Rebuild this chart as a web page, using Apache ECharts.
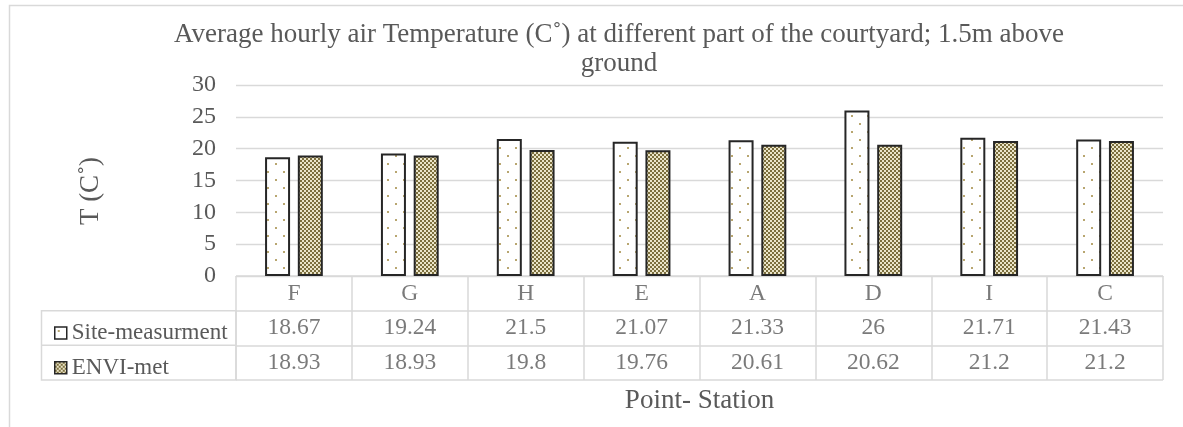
<!DOCTYPE html>
<html>
<head>
<meta charset="utf-8">
<script src="https://cdn.jsdelivr.net/npm/echarts@6/dist/echarts.min.js"></script>
<style>
html,body{margin:0;padding:0;background:#fff;}
#chart{width:1183px;height:427px;}
</style>
</head>
<body>
<div id="chart"></div>
<script>
// ---- data ----
const categories = ['F', 'G', 'H', 'E', 'A', 'D', 'I', 'C'];
const siteMeasurement = [18.67, 19.24, 21.5, 21.07, 21.33, 26, 21.71, 21.43];
const envimet = [18.93, 18.93, 19.8, 19.76, 20.61, 20.62, 21.2, 21.2];
const seriesNames = ['Site-measurment', 'ENVI-met'];
const yTicks = { min: 0, max: 30, interval: 5 };
const titleText = 'Average hourly air Temperature (C˚) at different part of the courtyard; 1.5m above\nground';
const yTitle = 'T (C˚)';
const xTitle = 'Point- Station';

// ---- patterns ----
function dotPattern() {
  const c = document.createElement('canvas');
  c.width = 16; c.height = 16;
  const g = c.getContext('2d');
  g.fillStyle = '#ffffff'; g.fillRect(0, 0, 16, 16);
  g.fillStyle = '#b8a670';
  g.fillRect(3, 3, 2, 2);
  g.fillRect(11, 11, 2, 2);
  return c;
}
function checkerPattern() {
  const c = document.createElement('canvas');
  c.width = 4; c.height = 4;
  const g = c.getContext('2d');
  g.fillStyle = '#ebe5c9'; g.fillRect(0, 0, 4, 4);
  g.fillStyle = '#7c6f3d';
  g.fillRect(0, 0, 2, 2);
  g.fillRect(2, 2, 2, 2);
  return c;
}

const FONT = 'Liberation Serif';
const TXT = '#595959';
const LINE = '#d9d9d9';

const tableCells = [];
categories.forEach((c, i) => {
  tableCells.push([i, 0, c]);
  tableCells.push([i, 1, String(siteMeasurement[i])]);
  tableCells.push([i, 2, String(envimet[i])]);
});

const chart = echarts.init(document.getElementById('chart'), null, { renderer: 'canvas' });
const option = {
  animation: false,
  backgroundColor: '#ffffff',
  textStyle: { fontFamily: FONT, color: TXT },
  title: {
    text: titleText,
    left: 614,
    top: 15,
    textAlign: 'center',
    textStyle: { fontFamily: FONT, fontSize: 27, fontWeight: 'normal', color: TXT, lineHeight: 29.5 }
  },
  legend: {
    data: seriesNames,
    orient: 'vertical',
    left: 49,
    top: 316,
    itemWidth: 12,
    itemHeight: 12,
    itemGap: 10.7,
    icon: 'rect',
    selectedMode: false,
    itemStyle: { borderWidth: 1.5, borderColor: '#262626' },
    textStyle: { fontFamily: FONT, fontSize: 23, color: TXT, lineHeight: 24 }
  },
  grid: [
    { left: 236, right: 20, top: 85, bottom: 151 },
    { left: 236, right: 20, top: 276, height: 104 }
  ],
  xAxis: [
    {
      type: 'category', gridIndex: 0, data: categories,
      axisLine: { show: true, lineStyle: { color: LINE } },
      axisTick: { show: false }, axisLabel: { show: false }
    },
    {
      type: 'category', gridIndex: 1, data: categories,
      axisLine: { show: false }, axisTick: { show: false }, axisLabel: { show: false },
      splitLine: { show: true, lineStyle: { color: LINE, width: 1.5 } }
    }
  ],
  yAxis: [
    {
      type: 'value', gridIndex: 0, min: yTicks.min, max: yTicks.max, interval: yTicks.interval,
      axisLine: { show: false }, axisTick: { show: false },
      axisLabel: { fontFamily: FONT, fontSize: 24, color: TXT, margin: 20 },
      splitLine: { lineStyle: { color: LINE, width: 1.3 } }
    },
    {
      type: 'category', gridIndex: 1, data: ['cat', 'site', 'envi'], inverse: true,
      axisLine: { show: false }, axisTick: { show: false }, axisLabel: { show: false },
      splitLine: { show: true, lineStyle: { color: LINE, width: 1.5 } }
    }
  ],
  series: [
    {
      name: seriesNames[0], type: 'bar', xAxisIndex: 0, yAxisIndex: 0,
      data: siteMeasurement, barWidth: 25, barGap: '31%',
      itemStyle: { color: { image: dotPattern(), repeat: 'repeat' }, borderColor: '#262626', borderWidth: 2 }
    },
    {
      name: seriesNames[1], type: 'bar', xAxisIndex: 0, yAxisIndex: 0,
      data: envimet, barWidth: 25, barGap: '31%',
      itemStyle: { color: { image: checkerPattern(), repeat: 'repeat' }, borderColor: '#262626', borderWidth: 2 }
    },
    {
      type: 'scatter', xAxisIndex: 1, yAxisIndex: 1, data: tableCells,
      symbolSize: 1, itemStyle: { color: 'rgba(0,0,0,0)' }, silent: true,
      label: {
        show: true, position: 'inside',
        formatter: p => p.value[2],
        fontFamily: FONT, fontSize: 23.5, color: TXT
      }
    }
  ],
  graphic: [
    {
      type: 'rect', silent: true,
      shape: { x: 9.5, y: 5.5, width: 1400, height: 600 },
      style: { fill: null, stroke: LINE, lineWidth: 1.5 }
    },
    {
      type: 'rect', silent: true,
      shape: { x: 41.5, y: 310.7, width: 194.5, height: 69.3 },
      style: { fill: null, stroke: LINE, lineWidth: 1.5 }
    },
    {
      type: 'line', silent: true,
      shape: { x1: 41.5, y1: 345.3, x2: 236, y2: 345.3 },
      style: { stroke: LINE, lineWidth: 1.5 }
    },
    {
      type: 'text', silent: true, x: 91, y: 191, rotation: Math.PI / 2,
      style: { text: yTitle, fontFamily: FONT, fontSize: 27, fill: TXT, align: 'center', verticalAlign: 'middle' }
    },
    {
      type: 'text', silent: true, x: 699.5, y: 401,
      style: { text: xTitle, fontFamily: FONT, fontSize: 27, fill: TXT, align: 'center', verticalAlign: 'middle' }
    }
  ]
};
chart.setOption(option);
</script>
</body>
</html>
